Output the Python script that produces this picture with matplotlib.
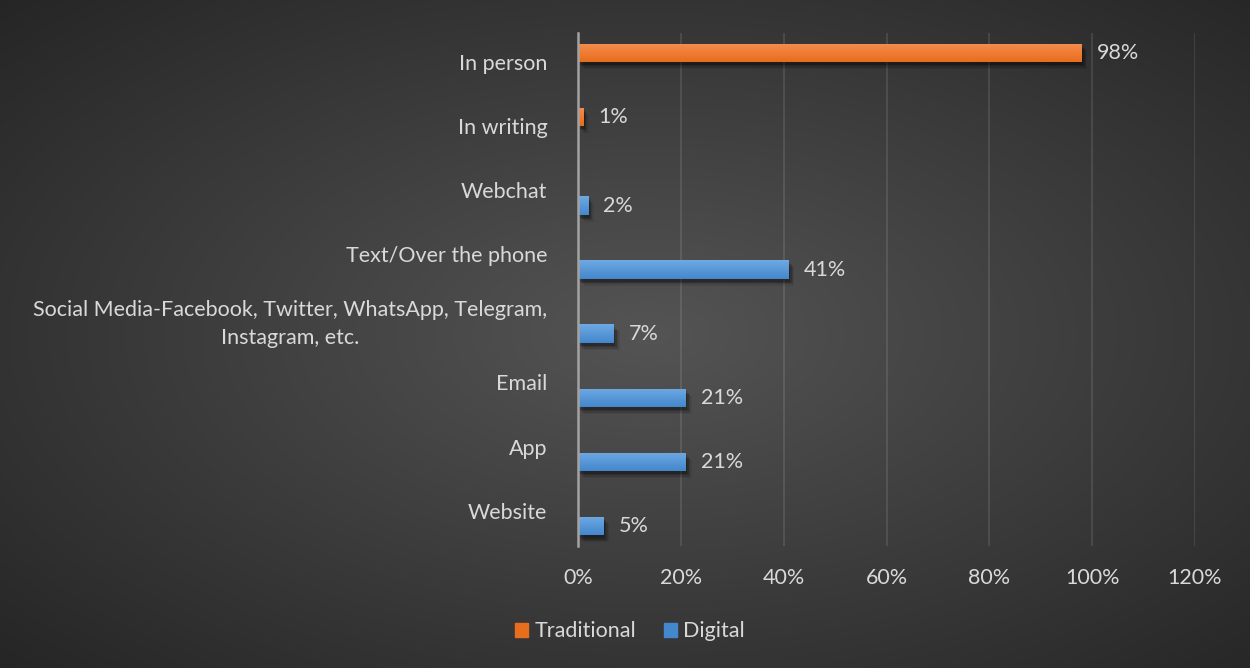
import numpy as np
import matplotlib

matplotlib.use("Agg")
import matplotlib.pyplot as plt
import matplotlib.patheffects as pe
from matplotlib.patches import Patch

channels = [
    "In person",
    "In writing",
    "Webchat",
    "Text/Over the phone",
    "Social Media-Facebook, Twitter, WhatsApp, Telegram,\nInstagram, etc.",
    "Email",
    "App",
    "Website",
]
traditional = [98, 1, None, None, None, None, None, None]
digital = [None, None, 2, 41, 7, 21, 21, 5]
x_ticks = [0, 20, 40, 60, 80, 100, 120]

TEXT = "#d9d9d9"
ORANGE = ("#f58d4f", "#e86d1c")
BLUE = ("#6eaae2", "#4487cd")
FS = 15.5

plt.rcParams["font.family"] = ["Lato", "DejaVu Sans"]

fig = plt.figure(figsize=(12.5, 6.68), dpi=100)

# radial dark background
bg = fig.add_axes([0, 0, 1, 1], zorder=-10)
gx, gy = np.meshgrid(np.linspace(0, 1, 500), np.linspace(0, 1, 300))
r = np.sqrt(((gx - 0.52) / 0.75) ** 2 + ((gy - 0.5) / 0.75) ** 2)
shade = np.clip(0.33 - 0.19 * r, 0.14, 0.33)
bg.imshow(np.dstack([shade] * 3), extent=[0, 1, 0, 1], aspect="auto", origin="lower")
bg.axis("off")

ax = fig.add_axes([0.4624, 0.1826, 0.4936, 0.768])
ax.patch.set_alpha(0)

n = len(channels)
pos = np.arange(n)
h = 0.29
off = 0.19

# soft drop shadow built from a few stacked offsets
shadow = [pe.SimplePatchShadow(offset=(dx, -dy), shadow_rgbFace="black", alpha=a)
          for dx, dy, a in [(4, 5, 0.08), (3, 4, 0.12), (2, 3, 0.18), (1, 2, 0.2)]]


def draw_series(values, shift, colors):
    for i, v in enumerate(values):
        if v is None:
            continue
        y = pos[i] + shift
        bar = ax.barh(y, v, height=h, color=colors[1], zorder=3,
                      path_effects=shadow + [pe.Normal()])[0]
        grad = np.linspace(0, 1, 50).reshape(-1, 1)
        c0 = np.array(matplotlib.colors.to_rgb(colors[0]))
        c1 = np.array(matplotlib.colors.to_rgb(colors[1]))
        img = c0[None, None, :] * (1 - grad[..., None]) + c1[None, None, :] * grad[..., None]
        im = ax.imshow(img, extent=[0, v, y + h / 2, y - h / 2], aspect="auto",
                       zorder=4, origin="upper")
        im.set_clip_path(bar)
        ax.text(v + 2.9, y, f"{v}%", va="center", ha="left", fontsize=FS,
                color=TEXT, zorder=5)


draw_series(traditional, -off, ORANGE)
draw_series(digital, off, BLUE)

ax.set_xlim(0, 120)
ax.set_ylim(n - 0.5, -0.5)
ax.set_xticks(x_ticks)
ax.set_xticklabels([f"{t}%" for t in x_ticks])
ax.set_yticks(pos - 0.05)
ax.set_yticklabels(channels, multialignment="center", linespacing=1.45)
ax.tick_params(axis="both", length=0, labelsize=FS, colors=TEXT)
ax.tick_params(axis="x", pad=16)
ax.tick_params(axis="y", pad=22)

ax.grid(axis="x", color="white", alpha=0.1, lw=1.5, zorder=0)
ax.set_axisbelow(True)
for s in ["top", "right", "bottom"]:
    ax.spines[s].set_visible(False)
ax.spines["left"].set_color("#a3a3a3")
ax.spines["left"].set_linewidth(1.8)
ax.spines["left"].set_zorder(6)

handles = [Patch(color=ORANGE[1], label="Traditional"),
           Patch(color=BLUE[1], label="Digital")]
fig.legend(handles=handles, loc="center", bbox_to_anchor=(0.504, 0.055), ncol=2,
           frameon=False, fontsize=FS, labelcolor=TEXT, handlelength=0.6,
           handleheight=0.6, handletextpad=0.3, columnspacing=1.3)

fig.savefig("out.png", dpi=100)
